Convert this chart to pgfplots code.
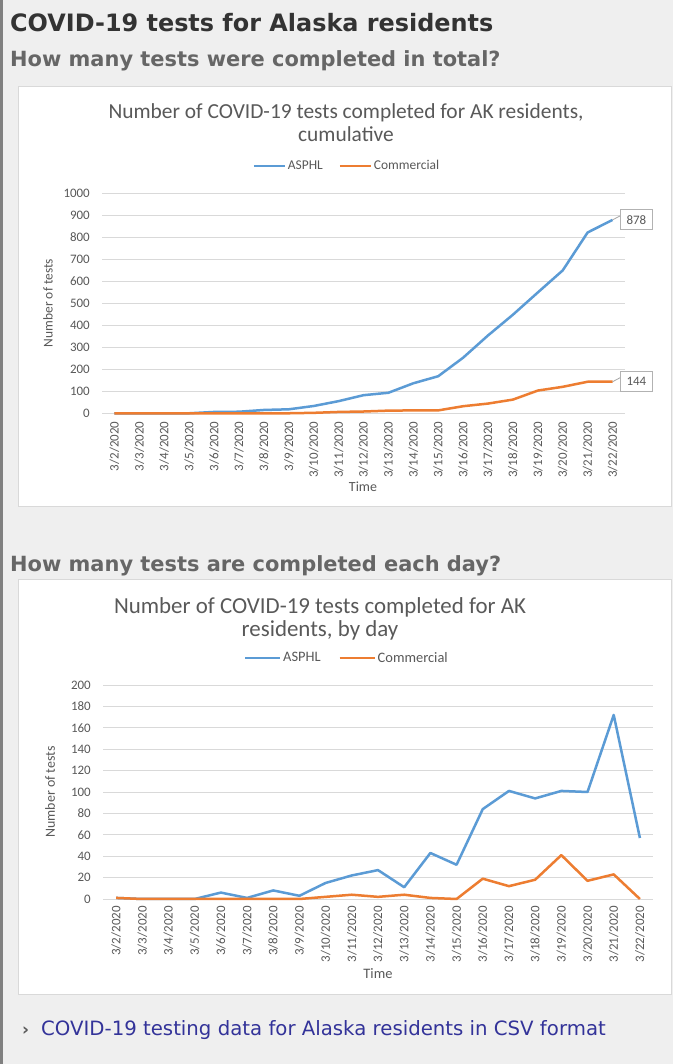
\documentclass[border=0pt]{standalone}
\usepackage{fontspec}
\setmainfont{DejaVu Sans}
\newfontfamily\calib{Carlito}
\usepackage{pgfplots}
\usepackage{pgfplotstable}
\pgfplotsset{compat=1.18}
\definecolor{pagebg}{HTML}{EFEFEF}
\definecolor{asphl}{HTML}{5B9BD5}
\definecolor{comm}{HTML}{ED7D31}
\definecolor{gridc}{HTML}{D9D9D9}
\definecolor{txt}{HTML}{595959}
\definecolor{linkc}{HTML}{333399}
\definecolor{hdr}{HTML}{333333}
\definecolor{sub}{HTML}{666666}

\pgfplotstableread{
x asphl comm
0 1 1
1 1 1
2 1 1
3 1 1
4 7 1
5 8 1
6 16 1
7 19 1
8 34 3
9 56 7
10 83 9
11 94 13
12 137 14
13 169 14
14 253 33
15 354 45
16 448 63
17 549 104
18 649 121
19 821 144
20 878 144
}\cumdata

\pgfplotstableread{
x asphl comm
0 1 1
1 0 0
2 0 0
3 0 0
4 6 0
5 1 0
6 8 0
7 3 0
8 15 2
9 22 4
10 27 2
11 11 4
12 43 1
13 32 0
14 84 19
15 101 12
16 94 18
17 101 41
18 100 17
19 172 23
20 57 0
}\daydata

\pgfplotsset{excel/.style={
  scale only axis,
  axis line style={draw=none},
  major tick length=0pt,
  xmin=-0.5, xmax=20.5, xtick={0,...,20},
  xticklabels={3/2/2020,3/3/2020,3/4/2020,3/5/2020,3/6/2020,3/7/2020,3/8/2020,3/9/2020,3/10/2020,3/11/2020,3/12/2020,3/13/2020,3/14/2020,3/15/2020,3/16/2020,3/17/2020,3/18/2020,3/19/2020,3/20/2020,3/21/2020,3/22/2020},
  /pgf/number format/assume math mode=true,
  /pgf/number format/1000 sep={},
  ymajorgrids, grid style={gridc, line width=0.9bp},
  xticklabel style={rotate=90, anchor=east, inner xsep=8bp, inner ysep=0pt},
  yticklabel style={anchor=east, inner xsep=12bp, inner ysep=0pt},
  legend style={draw=none, fill=none, legend columns=2, text=txt, inner sep=0pt,
    /tikz/every even column/.append style={column sep=14bp}},
  legend cell align=left,
  every axis plot/.append style={line width=2.5bp, mark=none, line join=round},
  clip=false,
}}

\begin{document}
\begin{tikzpicture}
\useasboundingbox (0,0) rectangle (673bp,1064bp);
\fill[pagebg] (0,0) rectangle (673bp,1064bp);
\fill[black!50] (0,0) rectangle (2.5bp,1064bp);
% panels
\filldraw[fill=white, draw=gridc, line width=1bp] (18bp,557bp) rectangle (671bp,977bp);
\filldraw[fill=white, draw=gridc, line width=1bp] (18bp,69bp) rectangle (671bp,484bp);
% page text
\node[anchor=base west, inner sep=0pt, text=hdr, font=\bfseries\fontsize{24}{26}\selectfont] at (10bp,1032.5bp) {COVID-19 tests for Alaska residents};
\node[anchor=base west, inner sep=0pt, text=sub, font=\bfseries\fontsize{21}{23}\selectfont] at (10bp,997.5bp) {How many tests were completed in total?};
\node[anchor=base west, inner sep=0pt, text=sub, font=\bfseries\fontsize{21}{23}\selectfont] at (10bp,492bp) {How many tests are completed each day?};
\node[anchor=base west, inner sep=0pt, text=black!65, font=\bfseries\fontsize{17}{18}\selectfont] at (22bp,28.3bp) {›};
\node[anchor=base west, inner sep=0pt, text=linkc, font=\fontsize{19.8}{21}\selectfont] at (41bp,28.3bp) {COVID-19 testing data for Alaska residents in CSV format};

% chart 1 texts
\node[anchor=base, inner sep=0pt, text=txt, font=\calib\fontsize{21.5}{22}\selectfont] at (346bp,945bp) {Number of COVID-19 tests completed for AK residents,};
\node[anchor=base, inner sep=0pt, text=txt, font=\calib\fontsize{21.5}{22}\selectfont] at (346bp,922bp) {cumulative};
\node[rotate=90, inner sep=0pt, text=txt, font=\calib\fontsize{13.5}{14}\selectfont] at (48bp,761bp) {Number of tests};
\node[inner sep=0pt, text=txt, font=\calib\fontsize{14}{15}\selectfont] at (363bp,577bp) {Time};

\begin{axis}[excel, at={(102bp,650.5bp)}, anchor=south west,
  width=523bp, height=220.5bp, ymin=0, ymax=1000, ytick={0,100,...,1000},
  tick label style={font=\calib\fontsize{13}{14}\selectfont, text=txt},
  legend image code/.code={\draw[#1, line width=2bp] (0bp,0bp) -- (31bp,0bp);},
  legend style={at={(0.4685,1.1224)}, anchor=center, font=\calib\fontsize{13.5}{14}\selectfont}]
\addplot[asphl] table[x=x, y=asphl] {\cumdata};
\addlegendentry{ASPHL}
\addplot[comm] table[x=x, y=comm] {\cumdata};
\addlegendentry{Commercial}
\draw[black!35, line width=0.8bp] (axis cs:20,878) -- ++(7.5bp,4bp);
\node[anchor=west, xshift=7.5bp, draw=black!30, fill=white, line width=0.8bp, minimum width=32bp, minimum height=20bp, inner sep=2bp, text=txt, font=\calib\fontsize{13}{14}\selectfont] at (axis cs:20,878) {878};
\draw[black!35, line width=0.8bp] (axis cs:20,144) -- ++(7.5bp,4bp);
\node[anchor=west, xshift=7.5bp, draw=black!30, fill=white, line width=0.8bp, minimum width=32bp, minimum height=20bp, inner sep=2bp, text=txt, font=\calib\fontsize{13}{14}\selectfont] at (axis cs:20,144) {144};
\end{axis}

% chart 2 texts
\node[anchor=base, inner sep=0pt, text=txt, font=\calib\fontsize{23}{24}\selectfont] at (320bp,450bp) {Number of COVID-19 tests completed for AK};
\node[anchor=base, inner sep=0pt, text=txt, font=\calib\fontsize{23}{24}\selectfont] at (320bp,427bp) {residents, by day};
\node[rotate=90, inner sep=0pt, text=txt, font=\calib\fontsize{14}{15}\selectfont] at (50bp,272bp) {Number of tests};
\node[inner sep=0pt, text=txt, font=\calib\fontsize{14.5}{15}\selectfont] at (378bp,90bp) {Time};

\begin{axis}[excel, at={(103bp,165bp)}, anchor=south west,
  width=550bp, height=214bp, ymin=0, ymax=200, ytick={0,20,...,200},
  tick label style={font=\calib\fontsize{13}{14}\selectfont, text=txt},
  xticklabel style={inner xsep=7bp},
  legend image code/.code={\draw[#1, line width=2bp] (0bp,0bp) -- (35bp,0bp);},
  legend style={at={(0.4436,1.126)}, anchor=center, font=\calib\fontsize{14.5}{15}\selectfont,
    /tikz/every even column/.append style={column sep=16bp}}]
\addplot[asphl] table[x=x, y=asphl] {\daydata};
\addlegendentry{ASPHL}
\addplot[comm] table[x=x, y=comm] {\daydata};
\addlegendentry{Commercial}
\end{axis}
\end{tikzpicture}
\end{document}
